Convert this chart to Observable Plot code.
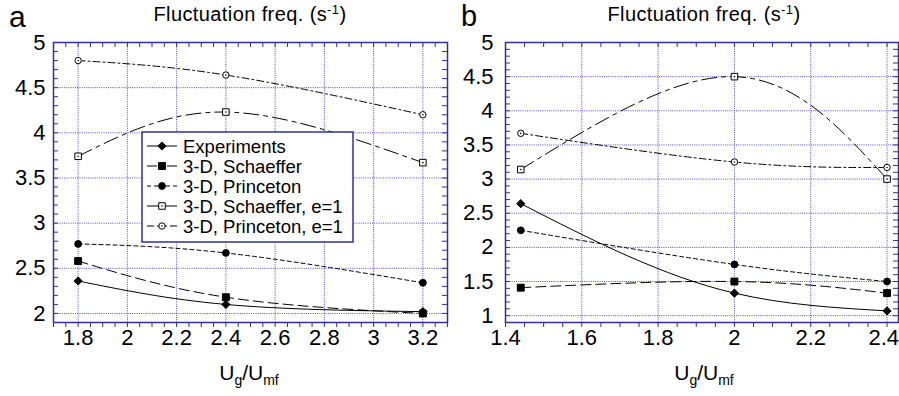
<!DOCTYPE html>
<html><head><meta charset="utf-8">
<script src="https://cdn.jsdelivr.net/npm/d3@7"></script>
<script src="https://cdn.jsdelivr.net/npm/@observablehq/plot@0.6"></script>
<style>
body{margin:0;background:#fff;}
#wrap{position:relative;width:899px;height:396px;overflow:hidden;background:#fff;}
#wrap svg{position:absolute;top:0;}
</style></head><body><div id="wrap"></div>
<script>
// ---- data ----
const seriesNames = ["Experiments", "3-D, Schaeffer", "3-D, Princeton", "3-D, Schaeffer, e=1", "3-D, Princeton, e=1"];
// panel a
const xA = [1.8, 2.4, 3.2];
const expA = [2.36, 2.10, 2.02];
const schA = [2.58, 2.18, 2.00];
const priA = [2.77, 2.67, 2.34];
const schE1A = [3.74, 4.23, 3.67];
const priE1A = [4.80, 4.64, 4.20];
// panel b
const xB = [1.44, 2.0, 2.4];
const expB = [2.64, 1.33, 1.07];
const schB = [1.41, 1.50, 1.33];
const priB = [2.25, 1.75, 1.50];
const schE1B = [3.14, 4.50, 3.00];
const priE1B = [3.67, 3.25, 3.17];
// ticks
const xTicksA = [1.8, 2, 2.2, 2.4, 2.6, 2.8, 3, 3.2];
const yTicksA = [2, 2.5, 3, 3.5, 4, 4.5, 5];
const xTicksB = [1.4, 1.6, 1.8, 2, 2.2, 2.4];
const yTicksB = [1, 1.5, 2, 2.5, 3, 3.5, 4, 4.5, 5];
const titleText = "Fluctuation freq. (s";
const titleSup = "-1";

// ---- styles ----
const FONT = "'Liberation Sans', Arial, Helvetica, sans-serif";
const FRAME = "#30309a";
const GRID = "#3c3cc0";
const styles = [
  {dash: null, symbol: "diamond2", fill: "black", r: 3.7},
  {dash: "10,5", symbol: "square", fill: "black", r: 3.9},
  {dash: "4,3", symbol: "circle", fill: "black", r: 3.4},
  {dash: "15,5,4,5", symbol: "square", fill: "white", r: 3.7, inner: true},
  {dash: "7,3,2,3", symbol: "circle", fill: "white", r: 3.2, inner: true}
];

function range(a, b, step) {
  const out = [];
  const n = Math.round((b - a) / step);
  for (let i = 0; i <= n; i++) out.push(+(a + i * step).toFixed(4));
  return out;
}

function makePanel({xs, series, curves, xDomain, yDomain, xTicks, yTicks, width, ml, mr, yPad, lastEnd}) {
  const H = 396, mt = 42, mb = 74;
  const ph = H - mt - mb, pw = width - ml - mr;
  const xMinor = range(Math.ceil(xDomain[0] * 20) / 20, Math.floor(xDomain[1] * 20 + 1e-6) / 20, 0.05);
  const yMinor = range(Math.ceil(yDomain[0] * 10) / 10, yDomain[1], 0.1);
  const rows = [];
  series.forEach((ys, s) => ys.forEach((y, k) => rows.push({s, x: xs[k], y})));
  const xLab = lastEnd ? xTicks.slice(0, -1) : xTicks;
  const marks = [
    Plot.gridX(xTicks.filter(v => v > xDomain[0] + 1e-6 && v < xDomain[1] - 1e-6),
      {stroke: GRID, strokeOpacity: 0.9, strokeDasharray: "1,1.2", strokeWidth: 1}),
    Plot.gridY(yTicks.filter(v => v > yDomain[0] + 1e-6 && v < yDomain[1] - 1e-6),
      {stroke: GRID, strokeOpacity: 0.9, strokeDasharray: "1,1.2", strokeWidth: 1}),
    // minor ticks
    Plot.tickX(xMinor, {x: d => d, insetTop: ph, insetBottom: -5, stroke: FRAME}),
    Plot.tickX(xMinor, {x: d => d, insetBottom: ph - 5, stroke: FRAME}),
    Plot.tickY(yMinor, {y: d => d, insetRight: pw - 5, stroke: FRAME}),
    Plot.tickY(yMinor, {y: d => d, insetLeft: pw - 5, stroke: FRAME}),
    Plot.frame({stroke: FRAME, strokeWidth: 1.5}),
    Plot.text(xLab, {x: d => d, frameAnchor: "bottom", dy: 22, text: d => String(d),
      fontSize: 22, fill: "black"}),
    Plot.text(yTicks, {y: d => d, frameAnchor: "left", dx: -yPad, textAnchor: "end", text: d => String(d),
      fontSize: 22, fill: "black"})
  ];
  if (lastEnd) marks.push(Plot.text(xTicks.slice(-1), {x: d => d, frameAnchor: "bottom", dy: 22, dx: 12,
    textAnchor: "end", text: d => String(d), fontSize: 22, fill: "black"}));
  series.forEach((ys, s) => {
    const st = styles[s];
    const data = rows.filter(d => d.s === s);
    marks.push(Plot.line(data, {x: "x", y: "y", curve: curves[s], stroke: "black", strokeWidth: 1,
      strokeDasharray: st.dash || undefined}));
  });
  series.forEach((ys, s) => {
    const st = styles[s];
    const data = rows.filter(d => d.s === s);
    marks.push(Plot.dot(data, {x: "x", y: "y", symbol: st.symbol, r: st.r, fill: st.fill, stroke: "black", strokeWidth: 1}));
    if (st.inner) marks.push(Plot.dot(data, {x: "x", y: "y", r: 0.8, fill: "black"}));
  });
  return Plot.plot({
    width, height: H, marginLeft: ml, marginRight: mr, marginTop: mt, marginBottom: mb,
    x: {domain: xDomain, axis: null},
    y: {domain: yDomain, axis: null},
    style: {fontFamily: FONT, overflow: "visible", background: "transparent"},
    marks
  });
}

const wrap = document.getElementById("wrap");
const svgA = makePanel({xs: xA, series: [expA, schA, priA, schE1A, priE1A],
  curves: ["natural", "natural", "natural", "natural", "natural"],
  xDomain: [1.7, 3.3], yDomain: [1.9, 5],
  xTicks: xTicksA, yTicks: yTicksA, width: 450, ml: 53, mr: 3, yPad: 8, lastEnd: false});
svgA.style.left = "0px";
wrap.appendChild(svgA);
const svgB = makePanel({xs: xB, series: [expB, schB, priB, schE1B, priE1B],
  curves: ["monotone-x", "natural", "natural", "natural", "natural"],
  xDomain: [1.4, 2.43], yDomain: [0.9, 5],
  xTicks: xTicksB, yTicks: yTicksB, width: 449, ml: 55, mr: 1, yPad: 12, lastEnd: true});
svgB.style.left = "450px";
wrap.appendChild(svgB);

// ---- overlay for titles, labels, legend ----
const ov = d3.select(wrap).append("svg").attr("width", 899).attr("height", 396)
  .style("left", "0px").style("font-family", FONT).style("pointer-events", "none");

function title(cx) {
  const t = ov.append("text").attr("x", cx).attr("y", 21).attr("text-anchor", "middle")
    .attr("font-size", 20).attr("letter-spacing", 0.4);
  t.append("tspan").text(titleText);
  t.append("tspan").attr("font-size", 13).attr("dy", -7).text(titleSup);
  t.append("tspan").attr("dy", 7).text(")");
}
title(250); title(704);

function xlabel(cx) {
  const t = ov.append("text").attr("x", cx).attr("y", 380).attr("text-anchor", "middle").attr("font-size", 21);
  t.append("tspan").text("U");
  t.append("tspan").attr("font-size", 14).attr("dy", 5).text("g");
  t.append("tspan").attr("dy", -5).text("/U");
  t.append("tspan").attr("font-size", 14).attr("dy", 5).text("mf");
}
xlabel(249); xlabel(704);

ov.append("text").attr("x", 9).attr("y", 27).attr("font-size", 30).text("a");
ov.append("text").attr("x", 461).attr("y", 26).attr("font-size", 29).text("b");

// legend
const lg = ov.append("g");
lg.append("rect").attr("x", 142).attr("y", 132).attr("width", 211).attr("height", 110)
  .attr("fill", "white").attr("stroke", FRAME).attr("stroke-width", 1.5);
const rowY = [146, 166, 186, 206, 226];
const symMap = {diamond2: d3.symbolDiamond2, square: d3.symbolSquare, circle: d3.symbolCircle};
seriesNames.forEach((name, i) => {
  const st = styles[i], y = rowY[i];
  [[147, 162], [177, 162]].forEach(([a, b]) => {
    lg.append("line").attr("x1", a).attr("x2", b).attr("y1", y).attr("y2", y)
      .attr("stroke", "black").attr("stroke-width", 1).attr("stroke-dasharray", st.dash);
  });
  lg.append("path").attr("transform", `translate(162,${y})`)
    .attr("d", d3.symbol(symMap[st.symbol], Math.PI * st.r * st.r)())
    .attr("fill", st.fill).attr("stroke", "black").attr("stroke-width", 1);
  if (st.inner) lg.append("circle").attr("cx", 162).attr("cy", y).attr("r", 0.8).attr("fill", "black");
  lg.append("text").attr("x", 183).attr("y", y).attr("dy", "0.36em").attr("font-size", 18.5).text(name);
});
</script></body></html>
